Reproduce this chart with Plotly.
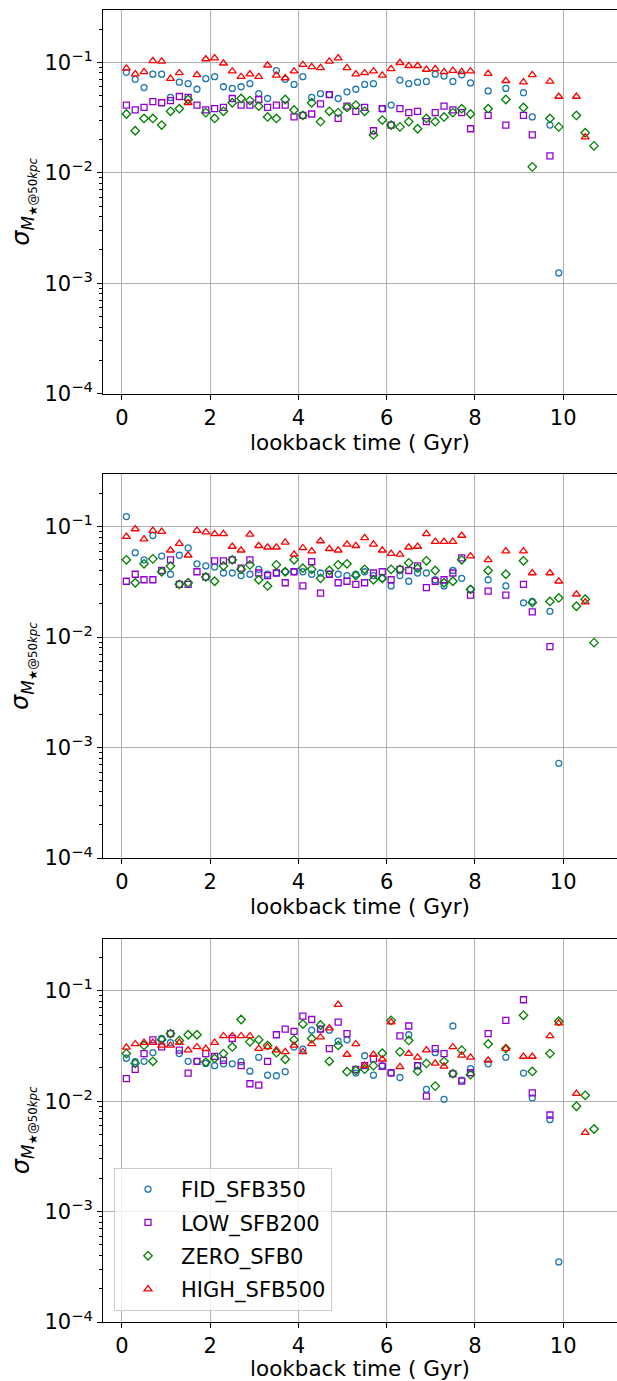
import plotly.graph_objects as go

# ---------------- data ----------------
X = [0.1, 0.3, 0.5, 0.7, 0.9, 1.1, 1.3, 1.5, 1.7, 1.9,
     2.1, 2.3, 2.5, 2.7, 2.9, 3.1, 3.3, 3.5, 3.7, 3.9,
     4.1, 4.3, 4.5, 4.7, 4.9, 5.1, 5.3, 5.5, 5.7, 5.9,
     6.1, 6.3, 6.5, 6.7, 6.9, 7.1, 7.3, 7.5, 7.7, 7.9,
     8.3, 8.7, 9.1, 9.3, 9.7, 9.9, 10.3, 10.5, 10.7]

# panel 1
FID_1 = [0.081, 0.070, 0.059, 0.078, 0.078, 0.048, 0.066, 0.064, 0.057, 0.071,
         0.074, 0.060, 0.058, 0.060, 0.064, 0.052, 0.047, 0.084, 0.070, 0.063,
         0.074, 0.048, 0.052, 0.051, 0.047, 0.054, 0.057, 0.063, 0.064, 0.038,
         0.041, 0.069, 0.064, 0.066, 0.067, 0.078, 0.075, 0.067, 0.077, 0.065,
         0.055, 0.058, 0.053, 0.032, 0.027, 0.00124, None, None, None]
LOW_1 = [0.041, 0.037, 0.039, 0.044, 0.043, 0.045, 0.049, 0.048, 0.041, 0.037,
         0.038, 0.039, 0.047, 0.041, 0.041, 0.046, 0.039, 0.041, 0.041, 0.032,
         0.033, 0.034, 0.042, 0.051, 0.031, 0.040, 0.036, 0.039, 0.024, 0.038,
         0.027, 0.038, 0.035, 0.036, 0.029, 0.035, 0.040, 0.037, 0.035, 0.025,
         0.033, 0.027, 0.033, 0.022, 0.0142, None, None, None, None]
ZERO_1 = [0.034, 0.024, 0.031, 0.031, 0.027, 0.036, 0.038, 0.046, None, 0.035,
          0.031, 0.036, 0.043, 0.047, 0.045, 0.040, 0.032, 0.031, 0.046, 0.037,
          0.033, 0.043, 0.029, 0.036, 0.035, 0.039, 0.041, 0.036, 0.022, 0.030,
          0.027, 0.026, 0.029, 0.025, 0.031, 0.029, 0.032, 0.035, 0.038, 0.034,
          0.038, 0.046, 0.039, 0.0113, 0.031, 0.026, 0.033, 0.023, 0.0175]
HIGH_1 = [0.088, 0.078, 0.082, 0.103, 0.102, 0.071, 0.080, 0.043, 0.077, 0.107,
          0.109, 0.098, 0.083, 0.074, 0.078, 0.074, 0.094, 0.076, 0.072, 0.083,
          0.095, 0.091, 0.089, 0.102, 0.109, 0.089, 0.078, 0.080, 0.083, 0.076,
          0.087, 0.099, 0.093, 0.093, 0.086, 0.087, 0.082, 0.084, 0.082, 0.083,
          0.079, 0.068, 0.066, 0.077, 0.067, 0.049, 0.049, 0.021, None]

# panel 2
FID_2 = [0.123, 0.058, 0.050, 0.083, 0.054, 0.037, 0.055, 0.064, 0.046, 0.044,
         0.043, 0.038, 0.038, 0.036, 0.037, 0.041, 0.037, 0.038, 0.039, 0.039,
         0.039, 0.037, 0.038, 0.037, 0.037, 0.036, 0.037, 0.039, 0.036, 0.034,
         0.029, 0.036, 0.032, 0.038, 0.038, 0.033, 0.029, 0.040, 0.034, 0.027,
         0.033, 0.029, 0.0204, 0.021, 0.0171, 0.00072, None, None, None]
LOW_2 = [0.032, 0.037, 0.033, 0.033, 0.040, 0.050, 0.030, 0.030, 0.039, 0.035,
         0.049, 0.049, 0.050, 0.042, 0.050, 0.038, 0.036, 0.038, 0.031, 0.039,
         0.029, 0.048, 0.025, 0.037, 0.031, 0.032, 0.030, 0.031, 0.038, 0.039,
         0.033, 0.041, 0.040, 0.044, 0.028, 0.032, 0.033, 0.038, 0.052, 0.024,
         0.026, 0.024, 0.030, 0.0169, 0.0082, None, None, None, None]
ZERO_2 = [0.050, 0.031, 0.046, 0.051, 0.039, 0.044, 0.030, 0.031, None, 0.035,
          0.032, 0.044, 0.050, 0.041, 0.045, 0.033, 0.029, 0.045, 0.039, 0.050,
          0.042, 0.041, 0.034, 0.040, 0.045, 0.046, 0.036, 0.041, 0.033, 0.034,
          0.041, 0.041, 0.047, 0.042, 0.049, 0.040, 0.031, 0.032, 0.050, 0.027,
          0.040, 0.037, 0.049, 0.0205, 0.021, 0.0226, 0.019, 0.022, 0.0089]
HIGH_2 = [0.081, 0.095, 0.077, 0.092, 0.090, 0.061, 0.070, 0.055, 0.092, 0.089,
          0.086, 0.086, 0.066, 0.061, 0.085, 0.067, 0.065, 0.065, 0.072, 0.056,
          0.064, 0.060, 0.074, 0.063, 0.061, 0.069, 0.067, 0.079, 0.069, 0.061,
          0.057, 0.056, 0.065, 0.066, 0.086, 0.073, 0.073, 0.073, 0.083, 0.054,
          0.050, 0.060, 0.060, 0.038, 0.038, 0.032, 0.0244, 0.0207, None]

# panel 3
FID_3 = [0.0245, 0.0228, 0.023, 0.0276, 0.037, 0.034, 0.027, 0.023, 0.023, 0.022,
         0.021, 0.0218, 0.0218, 0.0228, 0.0187, 0.025, 0.0172, 0.017, 0.0185, 0.031,
         0.0296, 0.044, 0.045, 0.044, 0.035, 0.036, 0.018, 0.0258, 0.0172, 0.021,
         0.018, 0.0164, 0.040, 0.021, 0.0128, 0.0275, 0.0104, 0.048, 0.0155, 0.0197,
         0.0218, 0.025, 0.018, 0.0107, 0.0068, 0.00035, None, None, None]
LOW_3 = [0.0160, 0.0194, 0.027, 0.036, 0.031, 0.041, 0.029, 0.018, 0.023, 0.027,
         0.0255, 0.0234, 0.037, 0.021, 0.0144, 0.0140, 0.023, 0.040, 0.045, 0.043,
         0.059, 0.055, 0.045, 0.030, 0.052, 0.041, 0.0194, 0.021, 0.0242, 0.0207,
         0.0181, 0.039, 0.048, 0.021, 0.0111, 0.030, 0.027, 0.0177, 0.0152, 0.0181,
         0.041, 0.054, 0.083, 0.0119, 0.0075, None, None, None, None]
ZERO_3 = [0.027, 0.022, 0.032, 0.023, 0.036, 0.041, 0.0355, 0.040, 0.040, 0.0226,
          0.0244, 0.027, 0.031, 0.055, 0.0345, 0.036, 0.032, 0.0275, 0.024, 0.036,
          0.050, 0.037, 0.049, 0.023, 0.032, 0.0185, 0.019, 0.0195, 0.021, 0.0272,
          0.054, 0.028, 0.0355, 0.0187, 0.022, 0.0137, 0.023, 0.0178, 0.029, 0.0174,
          0.033, 0.030, 0.060, 0.0186, 0.027, 0.053, 0.0090, 0.0113, 0.0056]
HIGH_3 = [0.0308, 0.033, 0.034, 0.034, 0.032, 0.032, 0.034, 0.029, 0.031, 0.030,
          0.034, 0.039, 0.039, 0.039, 0.039, 0.030, 0.031, 0.029, 0.028, 0.032,
          0.028, 0.033, 0.038, 0.046, 0.075, 0.0265, 0.033, 0.021, 0.0265, 0.024,
          0.052, 0.0205, 0.027, 0.025, 0.029, 0.022, 0.0207, 0.031, 0.026, 0.025,
          0.0235, 0.030, 0.0254, 0.0254, 0.039, 0.051, 0.0117, 0.0052, None]

SERIES_NAMES = ["FID_SFB350", "LOW_SFB200", "ZERO_SFB0", "HIGH_SFB500"]
PANELS = [
    [FID_1, LOW_1, ZERO_1, HIGH_1],
    [FID_2, LOW_2, ZERO_2, HIGH_2],
    [FID_3, LOW_3, ZERO_3, HIGH_3],
]
X_TICKS = [0, 2, 4, 6, 8, 10]
Y_TICKS = [1e-4, 1e-3, 1e-2, 1e-1]
Y_TICK_TEXT = ["10<sup>\u22124</sup>", "10<sup>\u22123</sup>", "10<sup>\u22122</sup>", "10<sup>\u22121</sup>"]

# ---------------- style ----------------
COLORS = ["#1f77b4", "darkviolet", "green", "red"]
SYMBOLS = ["circle-open", "square-open", "diamond-open", "triangle-up-open"]
SIZES = [6, 6, 6.5, 7]
FONT = "DejaVu Sans"
FS = 21

W, H = 617, 1381
ML, MR, MT, MB = 103, 0, 10, 59
PH = H - MT - MB
PANEL_PX = [(10.0, 393.7), (474.3, 858.0), (938.6, 1322.0)]


def ydom(top, bot):
    return [(H - MB - bot) / PH, (H - MB - top) / PH]


minor_vals = [m * 10.0 ** e for e in range(-4, 0) for m in range(2, 10)] + [0.2]

fig = go.Figure()
for p, vals in enumerate(PANELS):
    sfx = "" if p == 0 else str(p + 1)
    for s, yv in enumerate(vals):
        fig.add_trace(go.Scatter(
            x=X, y=yv, mode="markers", name=SERIES_NAMES[s],
            xaxis="x" + sfx, yaxis="y" + sfx,
            marker=dict(symbol=SYMBOLS[s], size=SIZES[s], color=COLORS[s],
                        line=dict(width=1.3, color=COLORS[s])),
            showlegend=(p == 2), legendgroup=SERIES_NAMES[s],
            cliponaxis=True,
        ))
    top, bot = PANEL_PX[p]
    fig.layout["xaxis" + sfx] = dict(
        domain=[0, 1], anchor="y" + sfx, range=[-0.43, 11.22],
        tickvals=X_TICKS, ticks="outside", ticklen=5, tickwidth=1, tickcolor="black",
        showline=True, linecolor="black", linewidth=1, mirror=True,
        showgrid=True, gridcolor="#b0b0b0", gridwidth=1, zeroline=False,
        tickfont=dict(family=FONT, size=FS, color="black"),
        title=dict(text="lookback time ( Gyr)", standoff=3,
                   font=dict(family=FONT, size=FS + 0.5, color="black")),
    )
    fig.layout["yaxis" + sfx] = dict(
        domain=ydom(top, bot), anchor="x" + sfx, type="log", range=[-4, -0.527],
        tickmode="array", tickvals=Y_TICKS, ticktext=Y_TICK_TEXT,
        ticks="outside", ticklen=5, tickwidth=1, tickcolor="black",
        minor=dict(tickmode="array", tickvals=minor_vals, ticks="outside",
                   ticklen=3, tickwidth=0.8, tickcolor="black", showgrid=False),
        showline=True, linecolor="black", linewidth=1, mirror=False,
        showgrid=True, gridcolor="#b0b0b0", gridwidth=1, zeroline=False,
        tickfont=dict(family=FONT, size=FS, color="black"),
        title=dict(text="<i>\u03c3</i><sub><i>M</i><sub>\u2605@50<i>kpc</i></sub></sub>", standoff=8,
                   font=dict(family=FONT, size=FS + 3, color="black")),
    )

fig.update_layout(
    width=W, height=H,
    margin=dict(l=ML, r=MR, t=MT, b=MB, autoexpand=False),
    paper_bgcolor="white", plot_bgcolor="white",
    font=dict(family=FONT, size=FS, color="black"),
    legend=dict(
        x=(114 - ML) / (W - ML - MR), y=(H - MB - 1311) / PH,
        xanchor="left", yanchor="bottom",
        bgcolor="rgba(255,255,255,0.8)", bordercolor="#cccccc", borderwidth=1,
        font=dict(family=FONT, size=FS, color="black"),
        tracegroupgap=3, itemwidth=56, traceorder="grouped",
    ),
)

fig.write_html("out.html", config={"displayModeBar": False},
               post_script="document.body.style.margin='0';")
